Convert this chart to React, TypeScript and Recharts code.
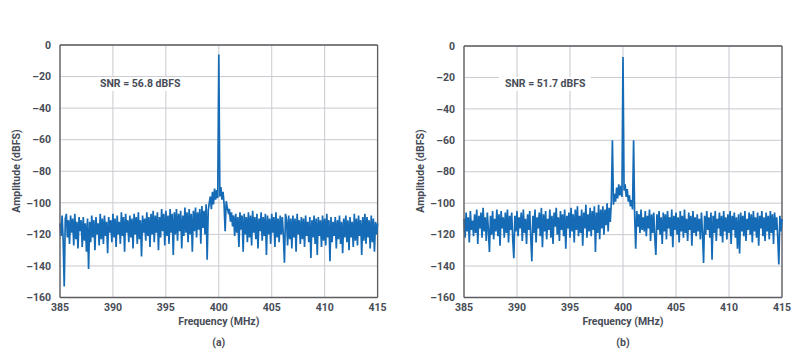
import React from "react";
import { LineChart, Line, XAxis, YAxis, CartesianGrid, ReferenceLine } from "recharts";

// Frequency grid: 385 MHz to 415 MHz, 0.1 MHz bins (301 bins)
const freqStart = 385;
const freqStep = 0.1;
const xTicks = [385, 390, 395, 400, 405, 410, 415];
const yTicks = [0, -20, -40, -60, -80, -100, -120, -140, -160];

// (a) amplitude per bin (dBFS)
const ampA = [
  -113, -121, -108, -124, -153, -110, -107, -122, -111, -126,
  -108, -119, -110, -127, -107, -123, -112, -129, -109, -118,
  -111, -128, -109, -124, -113, -131, -110, -142, -112, -125,
  -108, -122, -111, -130, -109, -120, -113, -127, -107, -123,
  -110, -126, -108, -121, -112, -132, -109, -119, -111, -125,
  -107, -122, -110, -128, -108, -120, -112, -126, -106, -121,
  -109, -131, -107, -119, -111, -125, -108, -122, -110, -129,
  -107, -120, -109, -126, -106, -123, -111, -134, -108, -119,
  -110, -124, -106, -121, -109, -128, -107, -120, -105, -125,
  -108, -119, -106, -130, -109, -122, -104, -118, -107, -127,
  -105, -121, -108, -126, -104, -119, -107, -133, -106, -120,
  -104, -124, -107, -118, -105, -129, -108, -121, -103, -119,
  -106, -125, -104, -120, -107, -131, -105, -118, -103, -122,
  -106, -117, -104, -126, -102, -116, -105, -120, -101, -136,
  -105, -100, -96, -104, -93, -101, -91, -98, -92, -97,
  -6, -96, -90, -98, -93, -101, -118, -99, -103, -106,
  -104, -112, -106, -115, -108, -121, -107, -119, -109, -128,
  -106, -117, -108, -131, -107, -120, -109, -125, -106, -122,
  -108, -127, -105, -119, -109, -123, -107, -129, -110, -118,
  -106, -124, -109, -121, -107, -133, -108, -120, -110, -126,
  -107, -119, -109, -128, -106, -122, -110, -125, -108, -120,
  -109, -121, -138, -107, -111, -127, -108, -123, -110, -129,
  -108, -122, -110, -131, -107, -120, -111, -126, -109, -123,
  -110, -128, -108, -121, -112, -125, -109, -135, -111, -122,
  -108, -126, -110, -133, -109, -121, -111, -128, -108, -124,
  -110, -127, -107, -122, -111, -137, -109, -125, -112, -121,
  -109, -129, -111, -123, -108, -126, -112, -132, -110, -122,
  -108, -125, -111, -130, -109, -122, -112, -128, -107, -124,
  -110, -127, -108, -121, -111, -133, -109, -124, -107, -126,
  -109, -122, -111, -129, -108, -125, -110, -131, -112, -120,
  -113,
];

// (b) amplitude per bin (dBFS)
const ampB = [
  -110, -122, -106, -118, -109, -125, -105, -117, -111, -121,
  -107, -119, -104, -126, -108, -116, -106, -122, -103, -118,
  -109, -124, -106, -117, -131, -108, -120, -105, -123, -110,
  -118, -104, -121, -107, -127, -105, -116, -109, -122, -106,
  -119, -104, -125, -108, -117, -106, -123, -135, -108, -118,
  -105, -121, -109, -116, -106, -124, -104, -119, -110, -126,
  -107, -117, -105, -122, -137, -108, -119, -104, -125, -109,
  -116, -106, -121, -103, -128, -107, -118, -105, -123, -110,
  -117, -104, -122, -108, -126, -106, -115, -103, -120, -109,
  -124, -105, -117, -107, -121, -104, -129, -108, -116, -106,
  -122, -103, -118, -107, -125, -104, -117, -102, -121, -108,
  -119, -104, -127, -106, -116, -101, -122, -107, -118, -103,
  -121, -105, -117, -102, -131, -106, -119, -101, -123, -104,
  -116, -102, -120, -104, -114, -100, -118, -103, -112, -99,
  -60, -101, -94, -99, -90, -97, -88, -95, -89, -96,
  -7, -92, -88, -96, -91, -99, -95, -102, -98, -104,
  -60, -108, -129, -105, -115, -107, -119, -104, -117, -109,
  -118, -105, -121, -108, -116, -104, -124, -107, -119, -106,
  -122, -133, -107, -117, -105, -120, -109, -126, -106, -118,
  -107, -123, -105, -116, -109, -121, -104, -128, -108, -117,
  -106, -120, -109, -125, -105, -118, -108, -122, -104, -119,
  -110, -124, -106, -117, -108, -127, -105, -119, -109, -121,
  -107, -118, -110, -123, -106, -119, -138, -108, -120, -105,
  -117, -109, -122, -106, -136, -108, -119, -105, -124, -110,
  -116, -106, -121, -108, -125, -105, -118, -109, -123, -107,
  -119, -105, -126, -108, -117, -106, -122, -109, -129, -107,
  -132, -106, -118, -108, -121, -105, -124, -110, -117, -106,
  -120, -107, -125, -105, -118, -109, -122, -106, -127, -108,
  -116, -105, -121, -109, -124, -106, -118, -108, -123, -105,
  -119, -107, -126, -106, -117, -109, -122, -139, -108, -118,
  -110,
];

const snrA = "SNR = 56.8 dBFS";
const snrB = "SNR = 51.7 dBFS";

const toRows = (amps: number[]) =>
  amps.map((a, i) => ({ f: Math.round((freqStart + i * freqStep) * 10) / 10, amp: a }));

const FONT = "Roboto, 'Noto Sans', sans-serif";
const TEXT_COLOR = "#474c57";
const TICK_STYLE = { fontSize: 10.5, fill: TEXT_COLOR, fontWeight: 700, fontFamily: FONT };
const fmt = (v: number) => String(v).replace("-", "\u2013");

type PanelProps = {
  rows: { f: number; amp: number }[];
  left: number;
  yAxisWidth: number;
  marginRight: number;
  top: number;
  snr: string;
  snrX: number;
  tag: string;
};

function Panel({ rows, left, yAxisWidth, marginRight, top, snr, snrX, tag }: PanelProps) {
  const plotLeft = yAxisWidth;
  const plotRight = 400 - marginRight;
  const center = (plotLeft + plotRight) / 2;
  const textStyle: React.CSSProperties = {
    fontFamily: FONT,
    fontSize: 10.5,
    fontWeight: 700,
    color: TEXT_COLOR,
    lineHeight: "14px",
    whiteSpace: "nowrap",
  };
  return (
    <div style={{ position: "absolute", left, top: 0, width: 400, height: 359 }}>
      <LineChart
        width={400}
        height={359}
        data={rows}
        margin={{ top, right: marginRight, left: 0, bottom: 41.5 }}
      >
        <CartesianGrid stroke="#c9c9d1" strokeWidth={1} />
        <XAxis
          dataKey="f"
          type="number"
          domain={[385, 415]}
          ticks={xTicks}
          height={20}
          tickSize={0}
          tickMargin={6}
          tick={TICK_STYLE}
          axisLine={{ stroke: "#5b5b60", strokeWidth: 1.3 }}
          interval={0}
        />
        <YAxis
          type="number"
          domain={[-160, 0]}
          ticks={yTicks}
          width={yAxisWidth}
          tickSize={0}
          tickMargin={9}
          tick={TICK_STYLE}
          tickFormatter={fmt}
          axisLine={{ stroke: "#5b5b60", strokeWidth: 1.3 }}
          interval={0}
        />
        <ReferenceLine y={0} stroke="#5b5b60" strokeWidth={1.3} />
        <ReferenceLine x={415} stroke="#5b5b60" strokeWidth={1.3} />
        <Line
          dataKey="amp"
          type="linear"
          stroke="#156bb5"
          strokeWidth={1.7}
          strokeLinejoin="miter"
          dot={false}
          isAnimationActive={false}
        />
      </LineChart>
      <div style={{ ...textStyle, position: "absolute", left: snrX - 6, top: 77, padding: "0 6px", background: "#fff" }}>
        {snr}
      </div>
      <div
        style={{
          ...textStyle,
          position: "absolute",
          left: yAxisWidth - 60 + 17 - 60,
          top: 164,
          width: 120,
          textAlign: "center",
          transform: "rotate(-90deg)",
        }}
      >
        Amplitude (dBFS)
      </div>
      <div style={{ ...textStyle, position: "absolute", left: center - 60, top: 315, width: 120, textAlign: "center" }}>
        Frequency (MHz)
      </div>
      <div style={{ ...textStyle, position: "absolute", left: center - 30, top: 336, width: 60, textAlign: "center" }}>
        {tag}
      </div>
    </div>
  );
}

export default function App() {
  const rowsA = toRows(ampA);
  const rowsB = toRows(ampB);
  return (
    <div style={{ position: "absolute", left: 0, top: 0, width: 800, height: 359, background: "#fff" }}>
      <Panel rows={rowsA} left={0} yAxisWidth={60} marginRight={22.4} top={45} snr={snrA} snrX={100} tag="(a)" />
      <Panel rows={rowsB} left={400} yAxisWidth={64} marginRight={18} top={46} snr={snrB} snrX={105} tag="(b)" />
    </div>
  );
}
